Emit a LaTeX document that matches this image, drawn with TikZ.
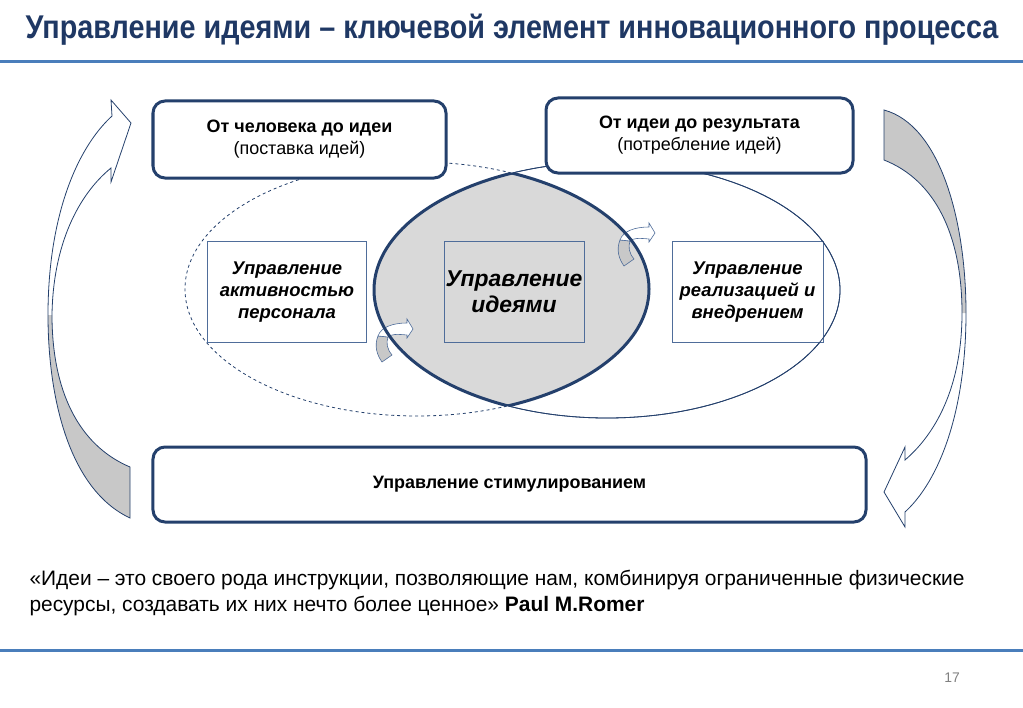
\documentclass[tikz,border=0pt]{standalone}
\usepackage{fontspec}
\setmainfont{Liberation Sans}
\newfontfamily\narrowfont[FakeStretch=0.875]{Liberation Sans}
\usetikzlibrary{positioning}

\definecolor{navy}{HTML}{24406C}
\definecolor{ruleblue}{HTML}{4A7EBB}
\definecolor{titleblue}{HTML}{1F3864}
\definecolor{lensgrey}{HTML}{D9D9D9}
\definecolor{arrowgrey}{HTML}{C8C8C8}
\definecolor{boxblue}{HTML}{4F6D9A}

\tikzset{
  stage/.style={draw=navy, line width=3bp, rounded corners=12bp, fill=white,
    align=center, font=\fontsize{18}{22}\selectfont},
  area/.style={draw=boxblue, line width=1bp, align=center, minimum height=101bp,
    inner xsep=1bp, font=\fontsize{18.5}{22}\selectfont\bfseries\itshape},
  curl/.pic={
    \filldraw[fill=arrowgrey, draw=boxblue, line width=0.6bp]
      (-7,-4) .. controls (-11,6) and (-8,15) .. (-3,22) -- (7,15)
      .. controls (2,9) and (1,3) .. (3,-3) -- cycle;
    \filldraw[fill=white, draw=boxblue, line width=0.6bp]
      (-7,-4) .. controls (-4,-13) and (8,-17) .. (22,-17) -- (22,-21)
      -- (28,-11) -- (22,-2) -- (22,-5) .. controls (12,-6) and (6,-6) .. (3,-3) -- cycle;
  }
}

\begin{document}
\begin{tikzpicture}[x=1bp,y=-1bp]
  \useasboundingbox (0,0) rectangle (1023,708);

  % title and rules
  \node[font=\narrowfont\bfseries\fontsize{33}{38}\selectfont, text=titleblue] (title) at (512,30)
    {Управление идеями – ключевой элемент инновационного процесса};
  \draw[ruleblue, line width=3bp] (0,62) -- (1023,62);
  \draw[ruleblue, line width=3bp] (0,650) -- (1023,650);

  % the two fields
  \draw[navy, line width=0.8bp, dashed] (417,289) ellipse [x radius=232, y radius=127];
  \draw[navy, line width=0.8bp] (607,290) ellipse [x radius=233, y radius=128];
  \begin{scope}
    \clip (417,289) ellipse [x radius=232, y radius=127];
    \fill[lensgrey] (607,290) ellipse [x radius=233, y radius=128];
  \end{scope}
  \pic at (385,340) {curl};
  \pic at (627,244) {curl};
  \begin{scope}
    \clip (417,289) ellipse [x radius=232, y radius=127];
    \draw[navy, line width=3bp] (607,290) ellipse [x radius=233, y radius=128];
  \end{scope}
  \begin{scope}
    \clip (607,290) ellipse [x radius=233, y radius=128];
    \draw[navy, line width=3bp] (417,289) ellipse [x radius=232, y radius=127];
  \end{scope}

  % inner boxes
  \node[area, minimum width=140bp, font=\fontsize{23}{26}\selectfont\bfseries\itshape] (ideas) at (514,292)
    {Управление\\идеями};
  \node[area, fill=white, minimum width=158bp, left=77bp of ideas] (staff)
    {Управление\\активностью\\персонала};
  \node[area, fill=white, minimum width=151bp, right=87bp of ideas] (impl)
    {Управление\\реализацией и\\внедрением};
  \draw[navy, line width=0.8bp] (607,290) ellipse [x radius=233, y radius=128];

  % outer boxes
  \node[stage, minimum width=293bp, minimum height=77bp] (supply) at (299.5,139.5)
    {\textbf{От человека до идеи}\\(поставка идей)};
  \node[stage, minimum width=307bp, minimum height=75bp, right=97bp of supply, yshift=4bp] (result)
    {\textbf{От идеи до результата}\\(потребление идей)};
  \node[stage, minimum width=713bp, minimum height=75bp] (stimulus) at (509.5,484.5)
    {\textbf{Управление стимулированием}};

  % big curved arrows
  \fill[arrowgrey] (130,518) .. controls (70,490) and (48,400) .. (48,315)
    -- (52,315) .. controls (52,390) and (78,445) .. (130,467) -- cycle;
  \draw[navy, line width=0.8bp] (130,518) .. controls (70,490) and (48,400) .. (48,315)
    .. controls (48,220) and (75,150) .. (112,116) -- (111,100) -- (131,123) -- (111,182)
    -- (111,168) .. controls (78,195) and (53,245) .. (52,315)
    .. controls (52,390) and (78,445) .. (130,467) -- cycle;
  \fill[arrowgrey] (884,110) .. controls (940,125) and (966,220) .. (966,313)
    -- (962,313) .. controls (962,235) and (935,180) .. (884,160) -- cycle;
  \draw[navy, line width=0.8bp] (884,110) .. controls (940,125) and (966,220) .. (966,313)
    .. controls (966,410) and (940,480) .. (905,512) -- (905,527) -- (884,492) -- (905,447)
    -- (905,460) .. controls (940,430) and (962,380) .. (962,313)
    .. controls (962,235) and (935,180) .. (884,160) -- cycle;

  % quote and page number
  \node[anchor=north west, align=left, font=\fontsize{21}{26}\selectfont] (quote) at (26,567)
    {«Идеи – это своего рода инструкции, позволяющие нам, комбинируя ограниченные физические\\
     ресурсы, создавать их них нечто более ценное» \textbf{Paul M.Romer}};
  \node[text=gray, font=\fontsize{14}{16}\selectfont] (page) at (952,678) {17};
\end{tikzpicture}
\end{document}
